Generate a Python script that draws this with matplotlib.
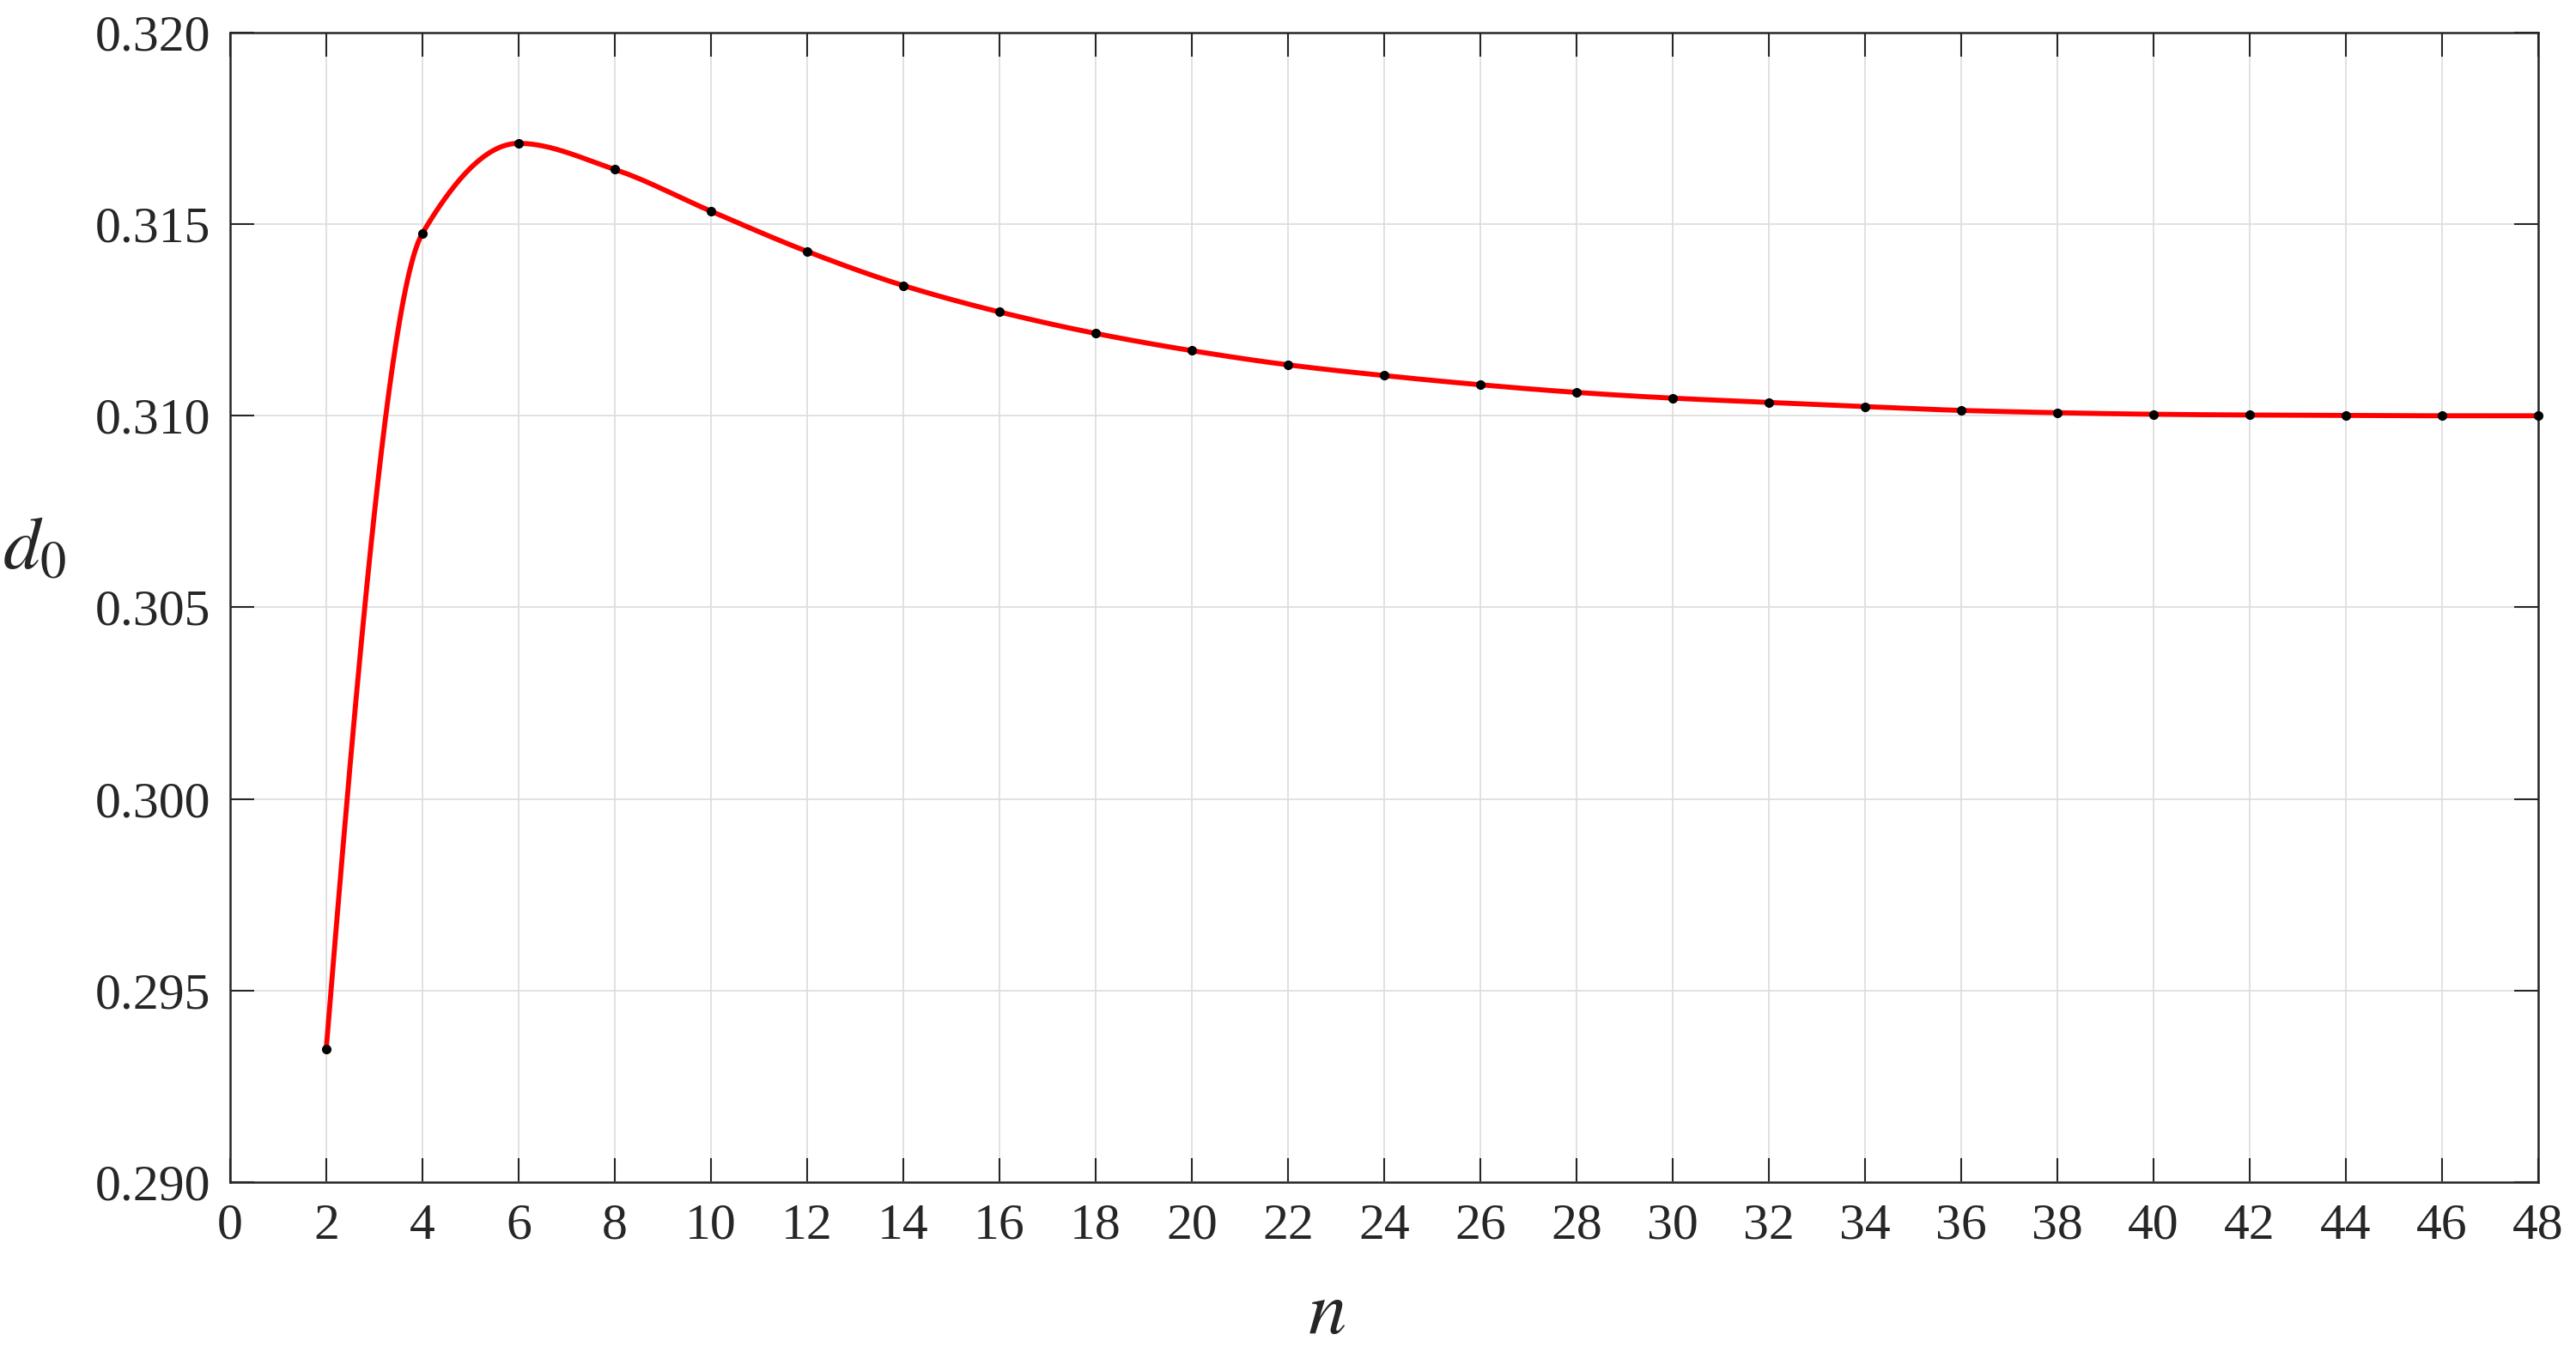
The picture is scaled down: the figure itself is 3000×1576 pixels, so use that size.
"""d0 versus n, smooth shape-preserving curve through the sampled points."""

import matplotlib
matplotlib.use("Agg")
import matplotlib.pyplot as plt
import numpy as np

n_vals = [2, 4, 6, 8, 10, 12, 14, 16, 18, 20, 22, 24,
          26, 28, 30, 32, 34, 36, 38, 40, 42, 44, 46, 48]
d0_vals = [0.29347, 0.31476, 0.31711, 0.31643, 0.31534, 0.31429, 0.31340, 0.31271,
           0.31215, 0.31170, 0.31133, 0.31105, 0.31081, 0.31061, 0.31046, 0.31035,
           0.31024, 0.31014, 0.31008, 0.31004, 0.31002, 0.31001, 0.31000, 0.31000]
x_ticks = list(range(0, 49, 2))
y_ticks = [0.290, 0.295, 0.300, 0.305, 0.310, 0.315, 0.320]


def end_slope(h0, h1, d0, d1):
    s = ((2 * h0 + h1) * d0 - h0 * d1) / (h0 + h1)
    if np.sign(s) != np.sign(d0):
        s = 0.0
    elif np.sign(d0) != np.sign(d1) and abs(s) > abs(3 * d0):
        s = 3 * d0
    return s


def pchip(x, y, xs):
    # piecewise cubic hermite (same as MATLAB pchip)
    x = np.asarray(x, float)
    y = np.asarray(y, float)
    h = np.diff(x)
    delta = np.diff(y) / h
    m = len(x)
    d = np.zeros(m)
    for k in range(1, m - 1):
        if delta[k - 1] * delta[k] > 0:
            w1 = 2 * h[k] + h[k - 1]
            w2 = h[k] + 2 * h[k - 1]
            d[k] = (w1 + w2) / (w1 / delta[k - 1] + w2 / delta[k])
    d[0] = end_slope(h[0], h[1], delta[0], delta[1])
    d[-1] = end_slope(h[-1], h[-2], delta[-1], delta[-2])
    idx = np.clip(np.searchsorted(x, xs) - 1, 0, m - 2)
    hh = h[idx]
    t = (xs - x[idx]) / hh
    h00 = 2 * t ** 3 - 3 * t ** 2 + 1
    h10 = t ** 3 - 2 * t ** 2 + t
    h01 = -2 * t ** 3 + 3 * t ** 2
    h11 = t ** 3 - t ** 2
    return h00 * y[idx] + h10 * hh * d[idx] + h01 * y[idx + 1] + h11 * hh * d[idx + 1]


plt.rcParams["font.family"] = ["Liberation Serif", "DejaVu Serif"]
plt.rcParams["mathtext.fontset"] = "stix"

fig = plt.figure(figsize=(30, 15.76), dpi=100)
ax = fig.add_axes([0.0893, 0.1263, 0.8960, 0.8496])

xs = np.linspace(n_vals[0], n_vals[-1], 1200)
ax.plot(xs, pchip(n_vals, d0_vals, xs), color="#ff0000", linewidth=4.2, zorder=3)
ax.plot(n_vals, d0_vals, "o", color="black", markersize=7, zorder=4, clip_on=False)

ax.set_xlim(0, 48)
ax.set_ylim(0.290, 0.320)
ax.set_xticks(x_ticks)
ax.set_yticks(y_ticks)
ax.set_yticklabels([f"{v:.3f}" for v in y_ticks])
ax.grid(True, color="#dedede", linewidth=1.3)
ax.set_axisbelow(True)

for s in ax.spines.values():
    s.set_color("#262626")
    s.set_linewidth(1.8)
ax.tick_params(axis="both", which="major", direction="in", length=20, width=1.5,
               color="#262626", labelcolor="#262626", labelsize=43,
               top=True, right=True)
ax.tick_params(axis="x", pad=18)
ax.tick_params(axis="y", pad=16)

ax.set_xlabel("$n$", fontsize=64, color="#262626")
ax.xaxis.set_label_coords(0.475, -0.085)
ax.set_ylabel("$d_0$", fontsize=62, color="#262626", rotation=0)
ax.yaxis.set_label_coords(-0.085, 0.52)

plt.savefig("out.png", dpi=100)
